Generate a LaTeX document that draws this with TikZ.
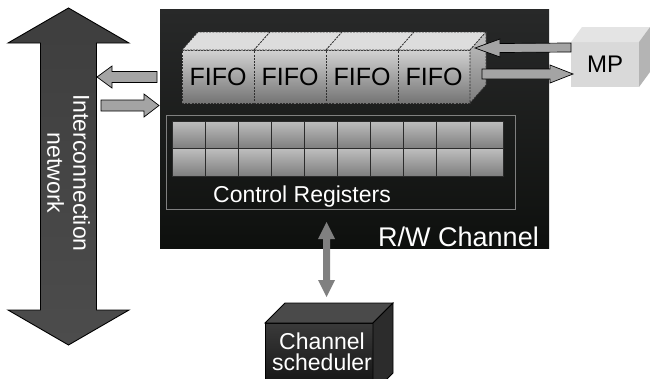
\documentclass[tikz,border=0pt]{standalone}
\usepackage{fontspec}
\setmainfont{Liberation Sans}
\usetikzlibrary{calc}

\definecolor{chanTop}{HTML}{282929}
\definecolor{chanBot}{HTML}{0E100E}
\definecolor{netTop}{HTML}{3E3E3E}
\definecolor{netMid}{HTML}{242424}
\definecolor{netBot}{HTML}{4C4C4C}
\definecolor{linkFill}{HTML}{A4A4A4}
\definecolor{fifoTop}{HTML}{D2D2D2}
\definecolor{fifoBot}{HTML}{747474}
\definecolor{fifoLid}{HTML}{DDDDDD}
\definecolor{fifoSideTop}{HTML}{C4C4C4}
\definecolor{fifoSideBot}{HTML}{7C7C7C}
\definecolor{fifoLine}{HTML}{303030}
\definecolor{mpFront}{HTML}{D9D9D9}
\definecolor{mpLid}{HTML}{E4E4E4}
\definecolor{mpSide}{HTML}{B4B4B4}
\definecolor{regTop}{HTML}{BEBEBE}
\definecolor{regMid}{HTML}{D3D3D3}
\definecolor{regBot}{HTML}{7E7E7E}
\definecolor{regLine}{HTML}{2B2B2B}
\definecolor{regFrame}{HTML}{808080}
\definecolor{busFill}{HTML}{808080}
\definecolor{schedLid}{HTML}{4A4A4A}
\definecolor{schedTop}{HTML}{3A3A3A}
\definecolor{schedBot}{HTML}{101010}
\definecolor{schedSide}{HTML}{2C2C2C}

% horizontal block arrow: style, tail point, tip point, shaft half width,
% head half width, signed head length (tip -> head base)
\newcommand\hblockarrow[6]{%
  \path[#1] ($(#2)+(0,#4)$) -- ($(#3)+(#6,#4)$) -- ($(#3)+(#6,#5)$) -- (#3)
    -- ($(#3)+(#6,-#5)$) -- ($(#3)+(#6,-#4)$) -- ($(#2)+(0,-#4)$) -- cycle;}
% vertical double-headed block arrow: style, upper tip, lower tip,
% shaft half width, head half width, head length
\newcommand\vdoublearrow[6]{%
  \path[#1] (#2) -- ($(#2)+(#5,#6)$) -- ($(#2)+(#4,#6)$) -- ($(#3)+(#4,-#6)$)
    -- ($(#3)+(#5,-#6)$) -- (#3) -- ($(#3)+(-#5,-#6)$) -- ($(#3)+(-#4,-#6)$)
    -- ($(#2)+(-#4,#6)$) -- ($(#2)+(-#5,#6)$) -- cycle;}

\begin{document}
\begin{tikzpicture}[x=1pt,y=-1pt,
  box/.style={inner sep=0pt, outer sep=0pt, anchor=north west},
  whitetxt/.style={text=white, inner sep=0pt, font=\fontsize{23}{26}\selectfont},
  netarrow/.style={draw=black, line width=0.9pt, top color=netTop, middle color=netMid, bottom color=netBot},
  linkarrow/.style={draw=black, line width=0.7pt, fill=linkFill},
  busarrow/.style={fill=busFill},
  fifoface/.style={box, draw=fifoLine, line width=0.8pt, dash pattern=on 2pt off 1.2pt,
    top color=fifoTop, bottom color=fifoBot, minimum width=72pt, minimum height=53pt,
    font=\fontsize{25}{27}\selectfont},
  fifolid/.style={draw=fifoLine, line width=0.8pt, dash pattern=on 2pt off 1.2pt, fill=fifoLid},
  fifoside/.style={draw=fifoLine, line width=0.8pt, dash pattern=on 2pt off 1.2pt,
    top color=fifoSideTop, bottom color=fifoSideBot},
  regcell/.style={draw=regLine, line width=0.8pt, top color=regTop, middle color=regMid, bottom color=regBot},
]
\clip (0,0) rectangle (650,378);
\fill[white] (0,0) rectangle (650,378);

% interconnection network
\coordinate (netTip) at (68.5,8);
\coordinate (netEnd) at (68.5,345);
\vdoublearrow{netarrow}{netTip}{netEnd}{28}{60.5}{35}
\node[whitetxt, rotate=-90, align=center] (netLbl) at (68.5,173) {Interconnection\\network};

% R/W channel block
\node[box, minimum width=389pt, minimum height=239pt, top color=chanTop, bottom color=chanBot] (chan) at (160,9) {};
\node[whitetxt, anchor=base east, font=\fontsize{27}{29}\selectfont] (chanLbl) at (539,246) {R/W Channel};

% links between the network and the channel
\coordinate (outTail) at (157,77);
\coordinate (outTip) at (97,77);
\hblockarrow{linkarrow}{outTail}{outTip}{5.5}{11}{15}
\coordinate (inTail) at (101,105.5);
\coordinate (inTip) at (159,105.5);
\hblockarrow{linkarrow}{inTail}{inTip}{5.5}{11.5}{-15}

% FIFO queue
\node[fifoface] (f1) at (182,50) {FIFO};
\node[fifoface] (f2) at (254,50) {FIFO};
\node[fifoface] (f3) at (326,50) {FIFO};
\node[fifoface] (f4) at (398,50) {FIFO};
\foreach \f in {f1,f2,f3,f4}
  \path[fifolid] (\f.north west) -- ++(16,-18) -- ++(72,0) -- (\f.north east) -- cycle;
\path[fifoside] (f4.north east) -- ++(16,-18) -- ++(0,53) -- (f4.south east) -- cycle;

% MP block
\node[box, fill=mpFront, minimum width=68pt, minimum height=45pt, font=\fontsize{24}{26}\selectfont] (mp) at (571,42) {MP};
\path[fill=mpLid] (mp.north west) -- ++(11,-15) -- ++(68,0) -- (mp.north east) -- cycle;
\path[fill=mpSide] (mp.north east) -- ++(11,-15) -- ++(0,45) -- (mp.south east) -- cycle;

\coordinate (mpOutTail) at (571,47.5);
\coordinate (mpOutTip) at ($(f4.north east)+(5,-2)$);
\hblockarrow{linkarrow}{mpOutTail}{mpOutTip}{4.5}{9}{25}
\coordinate (mpInTail) at (482,74);
\coordinate (mpInTip) at ($(mp.west)+(2,9.5)$);
\hblockarrow{linkarrow}{mpInTail}{mpInTip}{5}{9}{-23}

% control registers
\node[box, draw=regFrame, line width=1pt, minimum width=349pt, minimum height=94pt] (regs) at (166,115) {};
\foreach \r in {0,1}
  \foreach \c in {0,...,9}
    \path[regcell] (172+\c*33.1,121+\r*27.5) rectangle ++(33.1,27.5);
\node[whitetxt, anchor=base] (regsLbl) at (302,202) {Control Registers};

% channel scheduler
\node[box, draw=black, line width=0.8pt, minimum width=108pt, minimum height=70pt,
  top color=schedTop, bottom color=schedBot] (sched) at (265,323) {};
\path[draw=black, line width=0.8pt, fill=schedLid] (sched.north west) -- ++(20,-20) -- ++(108,0) -- (sched.north east) -- cycle;
\path[draw=black, line width=0.8pt, fill=schedSide] (sched.north east) -- ++(20,-20) -- ++(0,70) -- (sched.south east) -- cycle;
\node[whitetxt, align=center, font=\fontsize{23}{21}\selectfont] (schedLbl) at (322,352) {Channel\\scheduler};

% registers <-> scheduler
\coordinate (busTop) at ($(regs.south)+(-14,13)$);
\coordinate (busBot) at ($(sched.north)+(7.5,-26)$);
\vdoublearrow{busarrow}{busTop}{busBot}{3.5}{8.5}{17}
\end{tikzpicture}
\end{document}
